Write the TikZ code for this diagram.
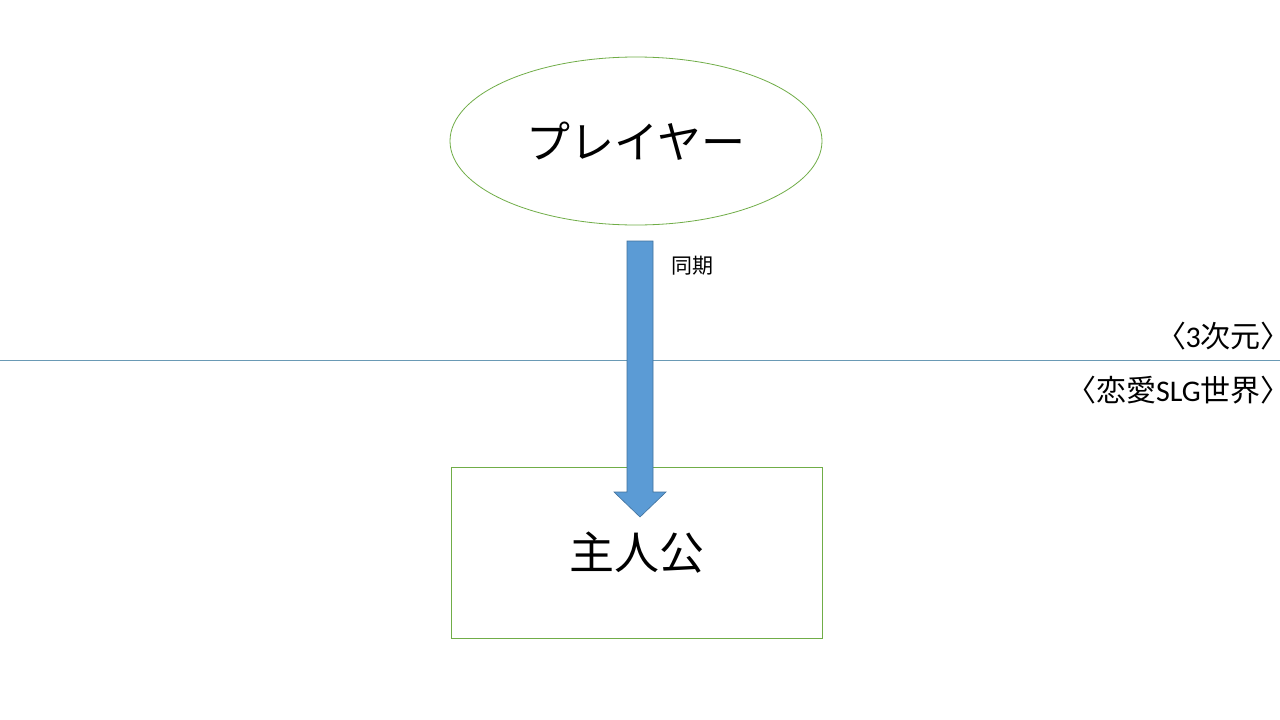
\documentclass[tikz,border=0pt]{standalone}
\usepackage{fontspec}
\setmainfont{Carlito}
\newfontfamily\jp{Noto Sans CJK JP}
\newfontfamily\jpp[RawFeature=+palt]{Noto Sans CJK JP}
\usetikzlibrary{shapes.geometric,arrows.meta}
\definecolor{shapegreen}{HTML}{70AD47}
\definecolor{arrowblue}{HTML}{5B9BD5}
\definecolor{arrowedge}{HTML}{41719C}
\definecolor{divider}{HTML}{6A9AB5}
\tikzset{
  greenline/.style={draw=shapegreen, line width=0.8pt},
  bigtext/.style={font=\jp\fontsize{45}{50}\selectfont},
  sidelabel/.style={font=\jpp\fontsize{30}{34}\selectfont, anchor=base east, inner sep=0pt},
}
\begin{document}
\begin{tikzpicture}[x=1pt,y=-1pt]
\useasboundingbox (0,0) rectangle (1280,720);
\fill[white] (0,0) rectangle (1280,720);
% divider line
\coordinate (L) at (0,360);
\coordinate (R) at (1280,360);
\draw[divider, line width=0.8pt] (L) -- (R);
% ellipse
\node[ellipse, greenline, minimum width=372pt, minimum height=168pt, font=\jp\fontsize{44}{50}\selectfont] (player) at (636,141) {プレイヤー};
% rectangle
\node[rectangle, greenline, minimum width=371pt, minimum height=171pt, bigtext] (hero) at (636.5,552.5) {\raisebox{1pt}{主人公}};
% block arrow
\draw[fill=arrowblue, draw=arrowedge, line width=0.6pt]
  (627,241) -- (653,241) -- (653,492) -- (666,492) -- (640,517) -- (614,492) -- (627,492) -- cycle;
\node[font=\jp\fontsize{21}{24}\selectfont, anchor=west, inner sep=0pt] (sync) at (671,266) {同期};
% side labels
\node[sidelabel] (dim3) at (1276,347) {〈\fontspec{Carlito}3\jpp 次元〉};
\node[sidelabel] (world) at (1276,401) {〈恋愛\fontspec{Carlito}SLG\jpp 世界〉};
\end{tikzpicture}
\end{document}
